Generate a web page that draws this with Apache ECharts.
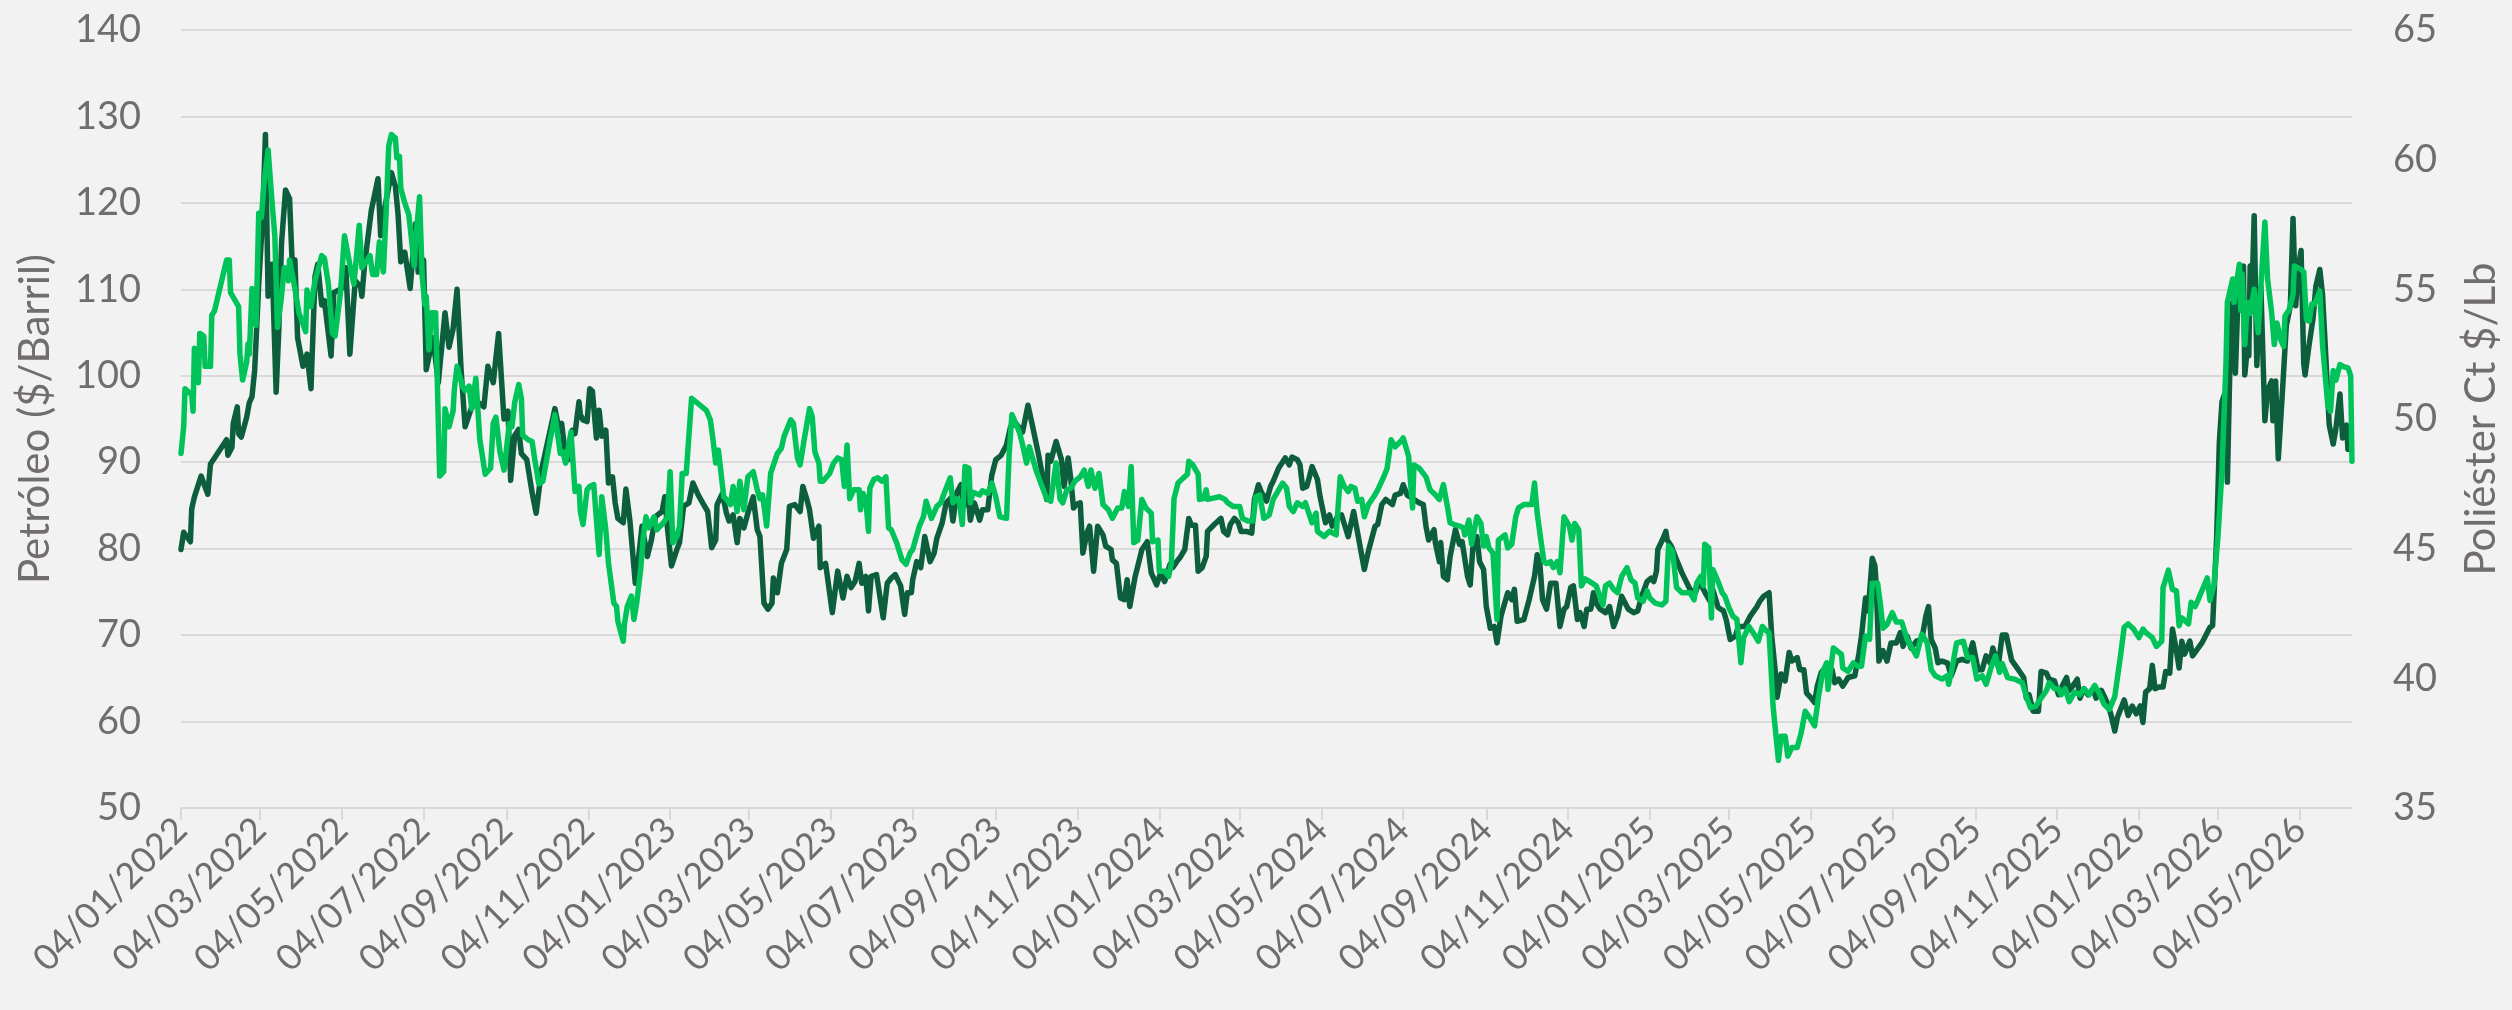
<!DOCTYPE html>
<html>
<head>
<meta charset="utf-8">
<script src="https://cdn.jsdelivr.net/npm/echarts@6/dist/echarts.min.js"></script>
<style>
html,body{margin:0;padding:0;background:#f2f2f2;}
#chart{width:2512px;height:1010px;}
</style>
</head>
<body>
<div id="chart"></div>
<script>
// x positions are calendar-day offsets from 04/01/2022 (first category)
const startDate = '2022-01-04';
const endDate = '2026-06-12';
const tickMonths = ['01', '03', '05', '07', '09', '11'];
const tickDay = '04';

const leftAxisName = 'Petróleo ($/Barril)';
const rightAxisName = 'Poliéster Ct $/Lb';
const leftAxisRange = [50, 140, 10];
const rightAxisRange = [35, 65, 5];

// Petróleo ($/Barril) — [day offset, value]
const petroleo = [
[0,79.9],[2,81.9],[7,80.8],[8,84.6],[10,86.0],[15,88.4],[20,86.3],[22,89.8],[25,90.5],[34,92.6],[35,90.8],[38,91.7],[39,94.5],[42,96.4],[43,93.3],[45,92.9],[49,95.2],[51,96.9],[53,97.6],[55,100.7],[58,110.6],[61,118.6],[63,127.9],[65,109.2],[68,112.9],[71,98.1],[73,105.4],[75,115.3],[78,121.5],[81,120.5],[83,112.9],[85,113.4],[87,104.4],[91,101.1],[94,102.5],[97,98.5],[100,111.5],[102,112.9],[105,108.2],[107,108.7],[112,102.3],[114,109.6],[120,110.1],[123,112.5],[126,102.5],[130,111.0],[134,110.3],[135,109.2],[137,112.9],[142,119.1],[147,122.8],[149,116.2],[151,118.6],[157,123.5],[160,121.9],[162,118.6],[164,113.2],[167,114.3],[171,110.1],[175,117.6],[177,112.0],[181,113.4],[183,100.7],[188,104.4],[192,99.2],[197,107.3],[200,103.3],[203,105.4],[206,110.0],[209,100.7],[212,94.1],[217,96.4],[222,96.9],[226,96.4],[229,101.1],[233,99.2],[237,104.9],[241,95.0],[244,95.9],[246,87.9],[249,93.1],[252,93.8],[254,91.0],[258,90.3],[262,86.5],[265,84.1],
[269,89.1],[279,96.2],[282,93.9],[284,94.5],[287,90.7],[289,90.3],[292,93.7],[294,93.3],[297,97.0],[298,95.5],[300,94.9],[303,94.7],[305,98.5],[307,98.2],[310,92.8],[312,96.0],[314,93.0],[317,93.7],[319,87.6],[322,88.3],[324,85.3],[326,83.5],[330,83.0],[332,86.9],[335,83.2],[339,76.0],[341,78.3],[344,82.6],[348,79.1],[351,81.0],[354,83.7],[359,84.3],[361,86.0],[363,82.4],[366,78.0],[370,79.9],[372,80.7],[375,84.9],[379,85.3],[382,87.6],[386,86.2],[390,85.1],[393,84.3],[396,80.1],[399,81.0],[400,85.1],[404,86.4],[407,84.1],[409,83.2],[412,83.9],[415,80.7],[417,83.5],[420,82.4],[423,84.1],[427,86.0],[430,82.2],[432,81.4],[435,73.7],[438,73.0],[441,73.7],[442,76.6],[445,74.9],[448,78.3],[452,79.9],[454,84.9],[458,85.1],[462,84.3],[464,87.2],[467,85.7],[469,84.5],[472,81.2],[476,82.6],[477,77.8],[481,78.3],[486,72.6],[490,77.4],[494,74.3],[497,76.8],[500,75.5],[503,76.2],[506,78.3],[508,76.0],[511,76.8],[513,72.8],[515,76.8],[519,77.0],[524,72.0],[527,76.0],[530,76.6],[533,77.0],[537,75.7],[540,72.4],
[542,74.9],[545,74.9],[546,76.4],[549,78.5],[552,77.8],[555,81.4],[559,78.5],[562,79.5],[564,81.2],[568,83.0],[571,85.3],[574,85.8],[576,83.2],[579,86.5],[582,87.4],[584,84.9],[587,87.0],[589,83.3],[592,85.3],[596,83.3],[598,84.5],[602,84.5],[605,88.5],[608,90.3],[612,90.8],[616,92.0],[619,94.1],[623,94.5],[628,93.5],[632,96.6],[635,94.5],[640,90.8],[643,88.3],[646,85.7],[647,90.8],[649,90.1],[653,92.4],[657,90.3],[659,87.2],[662,90.5],[664,88.0],[666,84.7],[668,85.1],[671,85.3],[673,79.5],[676,81.8],[678,82.6],[681,77.4],[684,82.6],[688,81.6],[690,80.3],[694,79.9],[695,78.7],[698,78.3],[701,74.3],[704,74.1],[706,76.4],[708,73.3],[712,76.8],[714,78.0],[717,79.9],[721,80.8],[724,77.2],[728,75.8],[731,77.2],[734,76.2],[738,78.2],[740,77.8],[743,78.5],[746,79.1],[749,79.9],[752,83.5],[754,82.7],[757,82.7],[759,77.4],[762,77.8],[765,79.1],[766,82.0],[771,82.8],[776,83.5],[778,82.0],[781,81.6],[783,82.8],[786,83.5],[789,83.0],[791,82.0],[795,82.0],[799,81.8],[801,85.7],[804,87.4],[806,86.6],[810,85.5],
[813,87.2],[815,87.8],[819,89.3],[824,90.5],[827,89.7],[829,90.6],[833,90.3],[835,89.7],[837,87.0],[840,87.2],[842,88.3],[844,89.5],[848,88.0],[850,86.0],[854,83.0],[857,83.9],[859,82.6],[863,83.7],[866,83.9],[871,81.4],[875,84.3],[878,81.8],[883,77.6],[886,79.7],[891,82.6],[893,82.8],[896,85.1],[899,85.7],[904,85.1],[906,86.2],[910,86.4],[912,87.4],[915,86.2],[919,85.8],[924,85.3],[927,85.1],[929,82.6],[931,81.0],[935,82.2],[936,80.7],[939,78.5],[940,80.7],[942,76.8],[945,76.4],[947,79.1],[951,82.2],[954,80.5],[956,80.8],[960,76.8],[962,75.8],[964,80.1],[967,81.4],[969,78.5],[972,77.6],[974,73.3],[977,70.8],[980,71.0],[982,69.1],[985,72.2],[987,73.3],[990,74.9],[993,74.1],[995,75.3],[997,71.6],[1002,71.8],[1006,74.1],[1010,76.8],[1012,79.3],[1014,78.2],[1016,74.1],[1019,73.0],[1022,76.0],[1026,76.0],[1029,71.0],[1032,73.0],[1034,73.3],[1037,75.5],[1039,75.7],[1042,71.8],[1044,72.6],[1047,71.0],[1049,73.0],[1052,73.0],[1054,74.9],[1056,73.7],[1059,73.0],[1063,72.6],[1066,73.3],[1069,71.0],[1072,72.2],[1075,74.5],[1080,73.0],[1084,72.6],
[1087,72.8],[1090,74.5],[1094,76.2],[1097,76.6],[1099,76.2],[1101,77.4],[1102,79.9],[1106,81.2],[1108,82.0],[1109,81.0],[1112,80.3],[1116,78.7],[1120,77.2],[1126,75.3],[1130,74.9],[1133,76.2],[1138,74.7],[1141,73.9],[1143,75.3],[1147,73.2],[1151,72.8],[1153,71.8],[1156,69.5],[1160,69.9],[1162,71.0],[1167,71.0],[1171,72.2],[1176,73.3],[1178,73.9],[1181,74.5],[1185,74.9],[1187,69.9],[1190,65.3],[1191,62.8],[1194,65.5],[1197,64.7],[1200,68.0],[1202,67.0],[1206,67.4],[1208,66.0],[1211,66.0],[1213,63.3],[1216,62.8],[1219,62.2],[1221,64.1],[1224,65.7],[1228,66.4],[1232,66.0],[1234,64.5],[1237,64.9],[1240,64.1],[1244,65.1],[1249,65.3],[1252,67.8],[1254,69.9],[1257,74.3],[1259,72.8],[1262,78.9],[1264,78.0],[1265,75.8],[1267,67.0],[1270,68.2],[1273,67.0],[1276,69.1],[1280,69.1],[1283,70.3],[1285,68.7],[1288,69.9],[1291,68.5],[1295,69.3],[1299,69.5],[1302,72.2],[1304,73.3],[1306,69.5],[1309,68.5],[1311,66.8],[1314,67.0],[1318,66.8],[1321,65.3],[1325,67.0],[1329,67.2],[1333,67.0],[1337,69.1],[1341,66.0],[1344,66.0],[1347,67.6],[1350,66.8],[1352,68.5],[1356,66.4],
[1359,70.0],[1362,70.0],[1366,67.1],[1371,66.0],[1375,65.1],[1377,62.7],[1379,63.1],[1382,61.2],[1386,61.2],[1388,65.8],[1392,65.6],[1394,64.9],[1398,64.7],[1401,63.1],[1404,64.2],[1407,65.1],[1409,63.6],[1412,64.2],[1415,64.9],[1417,62.7],[1420,63.8],[1423,63.1],[1427,63.8],[1429,62.7],[1433,63.6],[1437,62.3],[1440,60.9],[1443,58.9],[1445,60.5],[1450,62.5],[1453,60.7],[1456,61.8],[1459,60.9],[1462,61.8],[1464,59.9],[1466,63.4],[1469,63.8],[1471,66.5],[1473,63.8],[1476,64.0],[1479,64.0],[1481,65.8],[1484,65.6],[1486,70.7],[1489,68.2],[1491,66.2],[1493,69.3],[1495,67.8],[1499,69.3],[1501,67.6],[1508,69.1],[1514,70.9],[1516,71.1],[1519,81.3],[1521,92.3],[1523,97.0],[1525,97.9],[1527,87.7],[1529,101.9],[1531,108.5],[1533,100.3],[1535,109.4],[1537,107.6],[1539,112.7],[1540,100.1],[1542,103.4],[1543,102.3],[1544,112.7],[1546,112.9],[1547,118.5],[1549,101.2],[1551,109.4],[1552,110.3],[1555,94.8],[1557,98.3],[1560,99.4],[1561,94.8],[1563,99.4],[1565,90.4],[1568,97.9],[1571,105.8],[1574,108.1],[1576,118.2],[1578,108.1],[1580,112.5],[1582,114.5],[1584,101.4],[1585,100.1],[1588,103.6],[1591,106.7],[1593,110.3],[1596,112.3],[1598,109.4],[1600,103.6],[1603,94.3],[1606,92.1],[1608,93.9],[1611,97.9],[1613,92.8],[1616,94.3],[1617,91.5]
];

// Poliéster Ct $/Lb — [day offset, value]
const poliester = [
[0,48.67],[2,49.70],[3,51.17],[8,50.93],[9,50.30],[10,52.73],[13,51.40],[14,53.30],[17,53.20],[18,52.03],[22,52.03],[23,54.00],[25,54.17],[34,56.13],[36,56.13],[37,54.87],[43,54.33],[44,52.50],[46,51.50],[49,52.20],[50,52.90],[51,52.50],[53,55.03],[56,53.60],[58,57.93],[60,57.77],[62,59.13],[65,60.37],[68,58.33],[70,57.07],[72,53.53],[75,54.73],[77,55.83],[80,55.33],[81,56.13],[85,55.03],[88,54.10],[93,53.37],[94,54.97],[97,54.33],[100,55.33],[105,56.30],[107,56.20],[110,55.20],[113,53.30],[115,53.20],[119,54.87],[122,57.07],[127,55.67],[129,55.20],[131,56.30],[133,57.47],[135,55.83],[139,56.13],[141,56.30],[143,55.57],[146,55.57],[148,56.83],[151,55.67],[153,57.87],[155,60.53],[157,60.97],[160,60.83],[161,60.07],[163,60.13],[164,58.90],[167,58.33],[170,57.87],[172,56.93],[174,55.90],[175,56.83],[178,58.57],[180,55.50],[182,54.40],[183,54.73],[185,52.67],[187,54.10],[190,54.10],[193,47.80],[196,47.97],[197,50.40],[200,49.70],[203,50.30],[204,51.17],[206,52.03],[210,51.27],[212,51.10],[215,51.27],[217,50.40],[220,51.57],[223,49.20],[227,47.87],[231,48.10],[233,49.83],[235,50.07],[238,48.73],[241,48.03],[243,48.90],[245,49.83],[247,49.70],[249,50.63],[252,51.33],[254,50.80],[255,49.37],[259,49.20],[262,49.13],[264,48.43],[267,47.50],
[270,47.60],[275,49.07],[279,50.17],[283,48.67],[285,48.73],[287,48.30],[291,49.50],[294,47.20],[297,47.40],[298,46.43],[300,45.93],[303,47.27],[305,47.40],[308,47.47],[312,44.77],[314,47.00],[317,45.73],[319,44.43],[323,42.90],[325,42.77],[326,42.20],[330,41.43],[331,42.13],[333,42.77],[336,43.17],[338,42.27],[340,42.90],[343,44.20],[345,45.47],[347,46.23],[349,45.80],[353,46.23],[355,45.73],[360,46.00],[363,46.23],[365,47.97],[367,45.23],[370,45.47],[372,45.87],[374,47.90],[377,47.90],[381,50.80],[392,50.33],[395,49.97],[397,49.20],[399,48.30],[401,48.80],[405,47.00],[407,46.90],[410,46.70],[412,47.40],[415,46.43],[417,47.60],[420,46.50],[423,47.77],[427,47.97],[430,47.27],[432,46.93],[434,47.07],[437,45.87],[440,47.90],[443,48.37],[445,48.67],[448,48.87],[450,49.33],[455,49.97],[457,49.83],[460,48.50],[462,48.23],[465,49.20],[469,50.40],[471,50.10],[473,48.73],[476,48.30],[477,47.60],[479,47.60],[484,47.90],[487,48.30],[490,48.50],[493,48.43],[495,47.40],[497,49.00],[499,46.93],[502,47.27],[506,47.27],[507,46.50],[509,47.13],[511,46.90],[513,45.67],[514,47.33],[517,47.67],[520,47.73],[523,47.60],[526,47.77],[528,45.80],[530,45.73],[534,45.23],[538,44.57],[541,44.40],[544,44.83],
[546,44.97],[551,45.87],[554,46.23],[556,46.83],[560,46.17],[564,46.63],[567,46.77],[569,47.07],[574,47.73],[576,46.77],[579,46.93],[581,46.77],[583,45.93],[585,48.17],[588,48.10],[589,46.77],[591,47.17],[596,47.07],[598,47.23],[602,47.13],[605,47.53],[608,47.00],[611,46.23],[616,46.17],[618,48.67],[620,50.17],[623,49.83],[626,49.43],[628,49.00],[631,48.30],[633,48.93],[638,48.03],[642,47.47],[646,46.93],[649,46.83],[653,48.30],[656,46.90],[658,46.77],[661,47.27],[664,47.33],[667,47.60],[671,47.77],[674,48.03],[677,47.40],[679,48.03],[682,47.33],[685,47.90],[688,46.70],[692,46.50],[695,46.17],[699,46.57],[702,46.57],[704,47.20],[705,47.00],[707,46.63],[709,48.17],[711,45.23],[714,45.33],[717,46.90],[720,46.57],[724,46.37],[725,45.27],[729,45.33],[730,44.13],[734,44.13],[737,43.93],[739,44.43],[741,46.93],[744,47.53],[748,47.73],[751,47.87],[752,48.37],[755,48.23],[759,47.87],[760,46.90],[763,46.93],[765,47.27],[766,46.90],[775,47.00],[779,46.90],[781,46.77],[785,46.63],[790,46.63],[792,46.17],[796,46.07],[800,46.07],[802,47.00],[805,47.07],[808,46.17],[812,46.30],
[815,46.90],[822,47.53],[825,47.33],[827,46.63],[830,46.43],[833,46.77],[837,46.63],[839,46.77],[842,46.30],[844,46.00],[847,46.37],[848,45.67],[853,45.47],[857,45.67],[862,45.53],[865,47.77],[868,47.40],[871,47.20],[873,47.40],[876,47.33],[878,46.83],[881,46.90],[883,46.23],[886,46.70],[890,47.00],[893,47.27],[898,47.83],[900,48.10],[903,49.20],[906,48.93],[910,49.13],[912,49.27],[916,48.57],[919,46.57],[920,48.23],[924,48.10],[929,47.77],[932,47.27],[935,47.13],[939,46.90],[942,47.47],[945,46.63],[947,46.00],[950,45.93],[954,45.87],[957,45.80],[958,45.53],[961,46.10],[963,45.17],[967,46.23],[970,45.97],[972,45.10],[974,45.47],[976,45.03],[979,44.83],[982,42.27],[983,45.33],[988,45.53],[990,45.03],[993,45.17],[996,46.23],[998,46.57],[1002,46.70],[1008,46.70],[1010,47.53],[1012,46.37],[1014,45.60],[1017,44.50],[1019,44.43],[1022,44.50],[1024,44.27],[1027,44.50],[1029,44.07],[1032,46.23],[1036,45.87],[1038,45.33],[1040,45.97],[1043,45.73],[1045,43.57],[1048,43.83],[1053,43.67],[1056,43.57],[1061,42.83],[1063,43.57],[1066,43.67],[1069,43.43],[1072,43.30],[1075,43.93],[1079,44.27],[1082,43.80],[1085,43.67],
[1087,43.10],[1091,42.97],[1094,43.37],[1096,43.10],[1100,42.90],[1105,42.83],[1108,42.97],[1110,45.10],[1113,44.90],[1116,43.50],[1120,43.30],[1126,43.30],[1129,43.03],[1131,43.67],[1134,43.93],[1136,43.57],[1137,45.17],[1140,45.03],[1142,42.33],[1143,44.20],[1147,43.73],[1150,43.30],[1152,43.17],[1155,42.73],[1158,42.40],[1161,42.27],[1164,40.60],[1166,41.57],[1170,42.00],[1173,41.77],[1177,41.43],[1180,42.00],[1183,41.83],[1185,41.77],[1188,38.93],[1192,36.83],[1194,37.77],[1197,37.77],[1199,37.00],[1202,37.33],[1206,37.33],[1209,37.90],[1212,38.73],[1216,38.43],[1219,38.17],[1222,39.33],[1225,40.23],[1228,40.60],[1229,39.57],[1233,41.17],[1237,41.00],[1239,40.93],[1240,40.40],[1244,40.27],[1248,40.60],[1251,40.47],[1254,40.47],[1257,41.63],[1260,41.50],[1262,43.67],[1266,43.67],[1268,42.90],[1270,41.93],[1273,42.07],[1277,42.53],[1280,42.17],[1284,42.17],[1288,41.50],[1291,41.23],[1295,40.87],[1299,41.70],[1303,41.37],[1306,40.33],[1309,40.10],[1314,39.97],[1318,40.10],[1319,39.77],[1321,40.23],[1325,41.37],[1330,41.43],[1333,40.80],[1337,40.80],[1340,39.97],[1344,40.10],[1347,39.77],[1351,40.47],[1354,40.87],[1357,40.23],
[1359,40.57],[1363,40.03],[1368,39.97],[1374,39.83],[1377,39.30],[1380,38.87],[1384,38.93],[1388,39.23],[1392,39.53],[1394,39.83],[1398,39.60],[1401,39.60],[1403,39.37],[1406,39.60],[1409,39.10],[1413,39.47],[1417,39.37],[1420,39.60],[1424,39.37],[1428,39.73],[1431,39.47],[1435,39.00],[1439,38.80],[1443,39.30],[1447,40.77],[1450,41.97],[1453,42.10],[1457,41.90],[1461,41.57],[1464,41.90],[1466,41.77],[1471,41.57],[1474,41.23],[1478,41.43],[1479,43.50],[1483,44.17],[1486,43.43],[1489,43.37],[1491,42.03],[1493,42.33],[1498,42.10],[1500,42.93],[1503,42.77],[1506,43.13],[1512,43.87],[1514,43.00],[1517,43.60],[1520,45.50],[1523,48.00],[1526,52.20],[1527,54.50],[1531,55.40],[1532,54.50],[1534,55.30],[1536,55.97],[1537,54.20],[1538,55.60],[1540,52.87],[1542,54.50],[1544,54.07],[1547,55.00],[1549,53.77],[1550,53.33],[1552,55.10],[1555,57.60],[1557,55.40],[1560,54.13],[1562,52.87],[1564,53.70],[1567,53.03],[1569,52.80],[1570,53.97],[1573,54.20],[1576,54.80],[1577,55.90],[1582,55.77],[1584,55.67],[1586,53.83],[1588,53.77],[1590,54.43],[1592,54.43],[1595,54.80],[1596,54.93],[1598,52.87],[1602,50.50],[1604,50.30],[1606,51.87],[1608,51.50],[1611,52.10],[1613,52.03],[1617,51.97],[1619,51.67],[1620,48.37]
];

// Build calendar-day categories DD/MM/YYYY
function buildCategories(s, e) {
  const out = [];
  const d = new Date(s + 'T00:00:00Z');
  const end = new Date(e + 'T00:00:00Z');
  while (d <= end) {
    const dd = String(d.getUTCDate()).padStart(2, '0');
    const mm = String(d.getUTCMonth() + 1).padStart(2, '0');
    out.push(dd + '/' + mm + '/' + d.getUTCFullYear());
    d.setUTCDate(d.getUTCDate() + 1);
  }
  return out;
}
const categories = buildCategories(startDate, endDate);
const isTick = (idx, val) => {
  const v = val !== undefined ? val : categories[idx];
  const p = String(v).split('/');
  return p[0] === tickDay && tickMonths.indexOf(p[1]) >= 0;
};

const FONT = 'Lato';
const TXT = '#716d6d';
const chart = echarts.init(document.getElementById('chart'), null, {renderer: 'canvas'});
chart.setOption({
  backgroundColor: '#f2f2f2',
  animation: false,
  textStyle: {fontFamily: FONT},
  grid: {left: 181, right: 160, top: 30, bottom: 202, containLabel: false},
  xAxis: {
    type: 'category',
    data: categories,
    boundaryGap: false,
    axisLine: {show: true, lineStyle: {color: '#d9d9d9', width: 2}},
    axisTick: {show: true, interval: isTick, length: 12, lineStyle: {color: '#d9d9d9', width: 2}},
    axisLabel: {interval: isTick, rotate: 45, margin: 16, fontSize: 36, color: TXT, fontFamily: FONT},
    splitLine: {show: false}
  },
  yAxis: [
    {
      type: 'value', position: 'left',
      min: leftAxisRange[0], max: leftAxisRange[1], interval: leftAxisRange[2],
      name: leftAxisName, nameLocation: 'middle', nameRotate: 90, nameGap: 125,
      nameTextStyle: {fontSize: 42, color: TXT, fontFamily: FONT},
      axisLine: {show: false}, axisTick: {show: false},
      axisLabel: {fontSize: 38, color: TXT, margin: 40, fontFamily: FONT},
      splitLine: {show: true, lineStyle: {color: '#d9d9d9', width: 2}}
    },
    {
      type: 'value', position: 'right',
      min: rightAxisRange[0], max: rightAxisRange[1], interval: rightAxisRange[2],
      name: rightAxisName, nameLocation: 'middle', nameRotate: 90, nameGap: 108,
      nameTextStyle: {fontSize: 42, color: TXT, fontFamily: FONT},
      axisLine: {show: false}, axisTick: {show: false},
      axisLabel: {fontSize: 38, color: TXT, margin: 41, fontFamily: FONT},
      splitLine: {show: false}
    }
  ],
  series: [
    {
      name: leftAxisName, type: 'line', yAxisIndex: 0, data: petroleo,
      showSymbol: false, symbol: 'none', smooth: false,
      lineStyle: {color: '#0c5e3d', width: 5.5, cap: 'round', join: 'round'},
      z: 2
    },
    {
      name: rightAxisName, type: 'line', yAxisIndex: 1, data: poliester,
      showSymbol: false, symbol: 'none', smooth: false,
      lineStyle: {color: '#00c45a', width: 5.5, cap: 'round', join: 'round'},
      z: 3
    }
  ]
});
</script>
</body>
</html>
